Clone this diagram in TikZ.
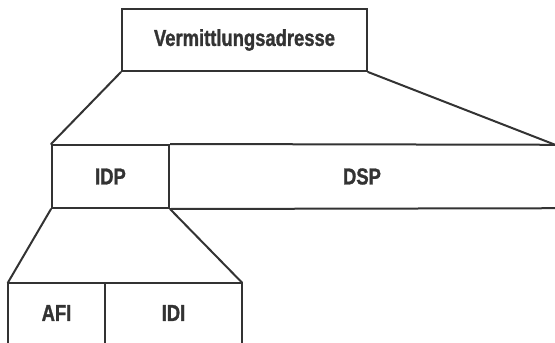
\documentclass[tikz,border=0pt]{standalone}
\usepackage{fontspec}
\newfontfamily\labfont[FakeStretch=0.8, BoldFeatures={FakeBold=1.2}]{Liberation Sans}
\usetikzlibrary{calc}
\definecolor{ink}{HTML}{333333}
\begin{document}
\begin{tikzpicture}[x=1pt,y=-1pt,
  line/.style={draw=ink, line width=2pt},
  field/.style={inner sep=0pt, text=ink,
    font=\labfont\bfseries\fontsize{23}{23}\selectfont},
  framed/.style={field, line, rectangle}]
\useasboundingbox (0,0) rectangle (555,343);
\clip (0,0) rectangle (555,343);

% whole address
\node[framed, minimum width=245pt, minimum height=62pt] (verm) at (244.5,40) {Vermittlungsadresse};

% second level: IDP | DSP (DSP runs on past the right margin)
\node[framed, minimum width=117pt, minimum height=63pt] (idp) at (110.5,176.5) {IDP};
\node[field, minimum width=386pt, minimum height=63pt] (dsp) at (362,176.5) {DSP};
\draw[line] (idp.north east) -- ($(dsp.north east)+(10,0)$);
\draw[line] (idp.south east) -- ($(dsp.south east)+(10,0)$);

% third level: AFI | IDI (open at the bottom)
\node[field, minimum width=97pt, minimum height=60pt] (afi) at (56.5,313) {AFI};
\node[field, minimum width=137pt, minimum height=60pt] (idi) at (173.5,313) {IDI};
\draw[line] (afi.north west) -- (idi.north east);
\draw[line] (afi.north west) -- ($(afi.south west)+(0,10)$);
\draw[line] (afi.north east) -- ($(afi.south east)+(0,10)$);
\draw[line] (idi.north east) -- ($(idi.south east)+(0,10)$);

% expansion fans
\draw[line, line cap=round] (verm.south west) -- (idp.north west);
\draw[line, line cap=round] (verm.south east) -- (dsp.north east);
\draw[line, line cap=round] (idp.south west) -- (afi.north west);
\draw[line, line cap=round] (idp.south east) -- (idi.north east);
\end{tikzpicture}
\end{document}
